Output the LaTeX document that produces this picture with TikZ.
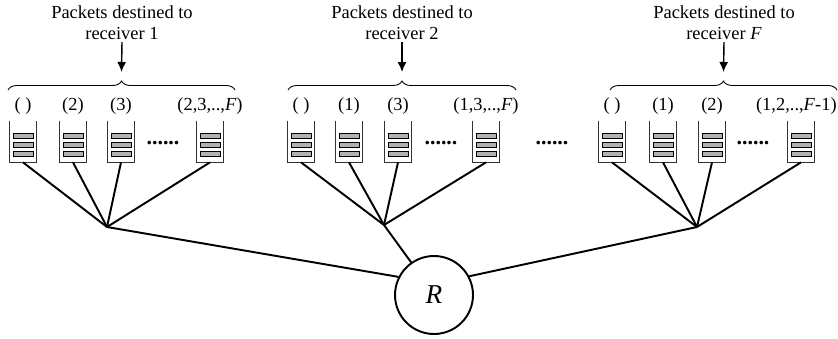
\documentclass[tikz,border=0pt]{standalone}
\usepackage{fontspec}
\setmainfont{Liberation Serif}
\usetikzlibrary{positioning}
\usetikzlibrary{calc}
\usetikzlibrary{arrows.meta}
\usetikzlibrary{decorations.pathreplacing}

\tikzset{
    queuebox/.style={minimum width=0.52cm, minimum height=0.82cm, inner sep=0},
    wall/.style={line width=0.7pt, black!80},
    bar/.style={draw=black, fill=gray!60, line width=0.5pt},
    link/.style={line width=1.1pt},
    lbl/.style={font=\fontsize{10.5}{12}\selectfont, anchor=base, inner sep=0},
    title/.style={font=\fontsize{10.5}{12}\selectfont, align=center, inner sep=1pt},
    dots/.style={font=\fontsize{12.5}{14}\selectfont\bfseries, anchor=base, inner sep=0},
    grpbrace/.style={decorate, decoration={brace, amplitude=0.18cm}, line width=0.5pt},
    down/.style={-{Latex[length=0.2cm, width=0.18cm]}, line width=0.8pt},
}

% one queue: name, x
\newcommand{\queue}[2]{%
    \node[queuebox] (#1) at (#2,141.5) {};
    \draw[wall] (#1.north west) -- (#1.south west) -- (#1.south east) -- (#1.north east);
    \foreach \dy in {-6,3,12} {
        \draw[bar] ([shift={(-10,\dy-2.5)}]#1.center) rectangle ([shift={(10,\dy+2.5)}]#1.center);
    }
}

\begin{document}
\begin{tikzpicture}[x=0.02cm, y=-0.02cm]
    \useasboundingbox (0,0) rectangle (838,338);

    %receiver 1
    \queue{q11}{23}
    \queue{q12}{73}
    \queue{q13}{121}
    \queue{q14}{210}
    \node[lbl] (l11) at (q11 |- 0,110) {( )};
    \node[lbl] (l12) at (q12 |- 0,110) {(2)};
    \node[lbl] (l13) at (q13 |- 0,110) {(3)};
    \node[lbl] (l14) at (q14 |- 0,110) {(2,3,..,\textit{F})};
    \node[dots] (d1) at (163,144) {......};
    \coordinate (br1l) at (8,90);
    \coordinate (br1r) at (235,90);
    \coordinate (b1) at ($(br1l)!0.5!(br1r)+(0,-9)$);
    \draw[grpbrace] (br1l) -- (br1r);
    \node[title] (t1) at (122,23) {Packets destined to\\receiver 1};
    \draw[down] (t1.south) -- ($(b1)+(0,-9)$);
    \coordinate (c1) at (107,227);

    %receiver 2
    \queue{q21}{301}
    \queue{q22}{349}
    \queue{q23}{398}
    \queue{q24}{486}
    \node[lbl] (l21) at (q21 |- 0,110) {( )};
    \node[lbl] (l22) at (q22 |- 0,110) {(1)};
    \node[lbl] (l23) at (q23 |- 0,110) {(3)};
    \node[lbl] (l24) at (q24 |- 0,110) {(1,3,..,\textit{F})};
    \node[dots] (d2) at (441,144) {......};
    \coordinate (br2l) at (288,90);
    \coordinate (br2r) at (516,90);
    \coordinate (b2) at ($(br2l)!0.5!(br2r)+(0,-9)$);
    \draw[grpbrace] (br2l) -- (br2r);
    \node[title] (t2) at (402,23) {Packets destined to\\receiver 2};
    \draw[down] (t2.south) -- ($(b2)+(0,-9)$);
    \coordinate (c2) at (384,225);

    %dots between receivers
    \node[dots] (dm) at (552,144) {......};

    %receiver F
    \queue{q31}{612}
    \queue{q32}{663}
    \queue{q33}{712}
    \queue{q34}{801}
    \node[lbl] (l31) at (q31 |- 0,110) {( )};
    \node[lbl] (l32) at (q32 |- 0,110) {(1)};
    \node[lbl] (l33) at (q33 |- 0,110) {(2)};
    \node[lbl, anchor=base east] (l34) at (837,110) {(1,2,..,\textit{F}-1)};
    \node[dots] (d3) at (753,144) {......};
    \coordinate (br3l) at (610,90);
    \coordinate (br3r) at (837,90);
    \coordinate (b3) at ($(br3l)!0.5!(br3r)+(0,-9)$);
    \draw[grpbrace] (br3l) -- (br3r);
    \node[title] (t3) at (724,23) {Packets destined to\\receiver \textit{F}};
    \draw[down] (t3.south) -- ($(b3)+(0,-9)$);
    \coordinate (c3) at (697,227);

    %R
    \node[draw, circle, line width=1.1pt, minimum size=1.56cm, inner sep=0, font=\fontsize{15.5}{18}\selectfont\itshape] (R) at (434,295) {R};

    %queues to junctions
    \foreach \g in {1,2,3} {
        \foreach \i in {1,...,4} {
            \draw[link] (q\g\i.south) -- (c\g);
        }
    }
    %junctions to R
    \draw[link] (c1) -- (R.153);
    \draw[link] (c2) -- (R.125);
    \draw[link] (c3) -- (R.28);

\end{tikzpicture}
\end{document}
